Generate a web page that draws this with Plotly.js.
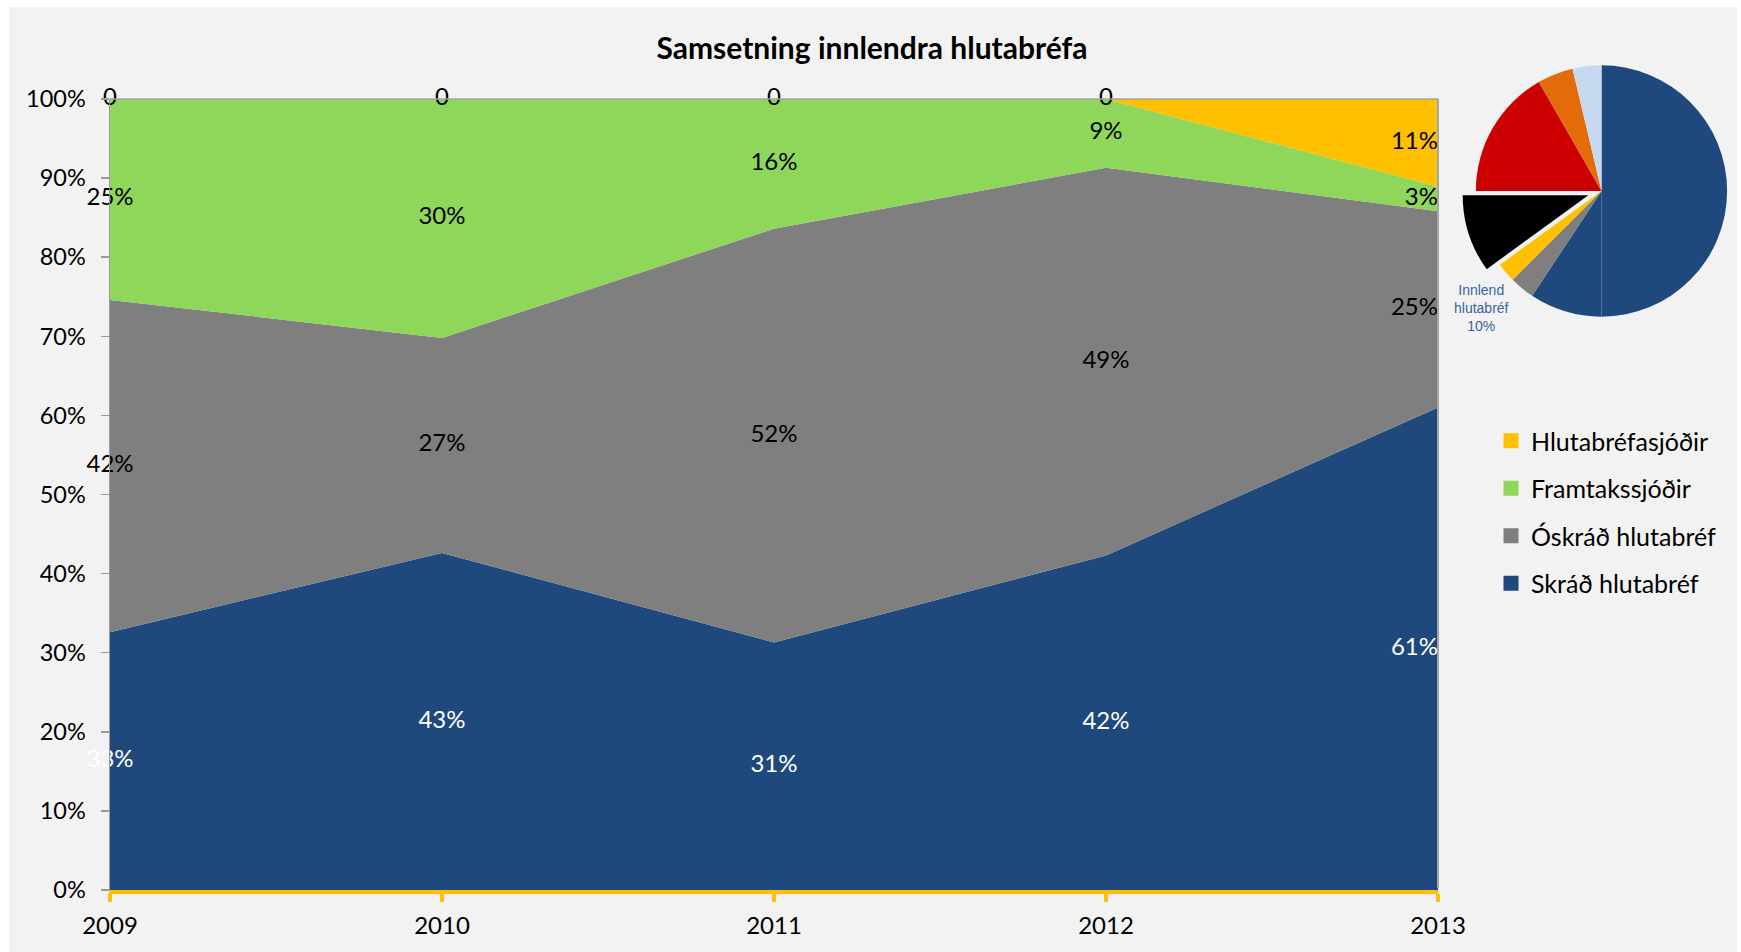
<!DOCTYPE html>
<html>
<head>
<meta charset="utf-8">
<script src="https://cdn.plot.ly/plotly-3.0.1.min.js"></script>
<style>html,body{margin:0;padding:0;background:#fff;}#chart{width:1741px;height:952px;}</style>
</head>
<body>
<div id="chart"></div>
<script>
// ---- Data ----
const years = [2009, 2010, 2011, 2012, 2013];
const skrad = [32.6, 42.6, 31.3, 42.3, 61.0];          // Skráð hlutabréf
const oskrad = [42.0, 27.2, 52.3, 49.0, 24.8];         // Óskráð hlutabréf
const framtak = [25.4, 30.2, 16.4, 8.7, 3.1];          // Framtakssjóðir
const hlutabrefasjodir = [0, 0, 0, 0, 11.1];           // Hlutabréfasjóðir
const seriesNames = ['Skráð hlutabréf', 'Óskráð hlutabréf', 'Framtakssjóðir', 'Hlutabréfasjóðir'];
const yTicks = [0,10,20,30,40,50,60,70,80,90,100];

// inset pie (thumbnail)
const pieLabels = ['Flokkur A', 'Flokkur B', 'Flokkur C', 'Flokkur D', 'Innlend hlutabréf', 'Flokkur E', 'Flokkur F', 'Flokkur G'];
const pieValues = [50.0, 9.3, 3.2, 2.5, 10.0, 16.7, 4.6, 3.7];

// ---- Styles ----
const colors = ['#1f497d', '#7f7f7f', '#8fd75a', '#ffc000'];
const labelColors = ['#ffffff', '#000000', '#000000', '#000000'];
const pieColors = ['#1f497d', '#1f497d', '#7f7f7f', '#ffc000', '#000000', '#cc0000', '#e36c0a', '#c6d9f1'];
const FONT = 'Lato, "Open Sans", sans-serif';

const W = 1741, H = 952;
const px = (x) => x / W;
const py = (y) => 1 - y / H;

const allSeries = [skrad, oskrad, framtak, hlutabrefasjodir];
const traces = [];

// stacked areas
allSeries.forEach((s, i) => {
  traces.push({
    type: 'scatter', mode: 'lines', x: years, y: s, stackgroup: 'one',
    name: seriesNames[i], line: {width: 0, color: colors[i]}, fillcolor: colors[i],
    showlegend: false, hoverinfo: 'skip'
  });
});

// data labels at the middle of each band
const cum = years.map(() => 0);
allSeries.forEach((s, i) => {
  const ys = s.map((v, j) => cum[j] + v / 2);
  s.forEach((v, j) => { cum[j] += v; });
  traces.push({
    type: 'scatter', mode: 'text', x: years, y: ys,
    text: s.map(v => v === 0 ? '0' : Math.round(v) + '%'),
    textposition: years.map((y, j) => j === years.length - 1 ? 'middle left' : 'middle center'),
    textfont: {family: FONT, size: 24, color: labelColors[i]},
    showlegend: false, hoverinfo: 'skip', cliponaxis: false
  });
});

// legend entries (square swatches), top to bottom
[3, 2, 1, 0].forEach((i) => {
  traces.push({
    type: 'scatter', mode: 'markers', x: [null], y: [null], name: seriesNames[i],
    legendgroup: 'g' + i,
    marker: {symbol: 'square', size: 15, color: colors[i]}, showlegend: true
  });
});

// inset pie
traces.push({
  type: 'pie', labels: pieLabels, values: pieValues, sort: false, direction: 'clockwise', rotation: 0,
  marker: {colors: pieColors, line: {width: 0}},
  pull: pieLabels.map(l => l === 'Innlend hlutabréf' ? 0.11 : 0),
  textinfo: 'none', hoverinfo: 'label+percent', showlegend: false,
  domain: {x: [px(1462), 1], y: [py(331), py(51)]}
});

const xL = 110, xR = 1438, yT = 99, yB = 890;

const layout = {
  width: W, height: H,
  margin: {l: 0, r: 0, t: 0, b: 0},
  paper_bgcolor: '#ffffff', plot_bgcolor: 'rgba(0,0,0,0)',
  title: {text: '<b>Samsetning innlendra hlutabréfa</b>', font: {family: FONT, size: 30, color: '#000'},
          x: px(872), xanchor: 'center', y: py(48), yanchor: 'middle'},
  xaxis: {
    domain: [px(xL), px(xR)], range: [2009, 2013], tickvals: years, ticktext: years.map(String),
    showgrid: false, zeroline: false, showline: true, linecolor: '#ffc000', linewidth: 4,
    ticks: 'outside', ticklen: 8, tickwidth: 4, tickcolor: '#ffc000',
    tickfont: {family: FONT, size: 24, color: '#000'}, ticklabelstandoff: 3, fixedrange: true
  },
  yaxis: {
    domain: [py(yB), py(yT)], range: [0, 100], tickvals: yTicks, ticktext: yTicks.map(v => v + '%'),
    showgrid: false, zeroline: false, showline: true, linecolor: '#999999', linewidth: 1.5,
    ticks: 'outside', ticklen: 8, tickwidth: 1.5, tickcolor: '#999999',
    tickfont: {family: FONT, size: 23.5, color: '#000'}, ticklabelstandoff: 10, fixedrange: true
  },
  showlegend: true,
  legend: {x: px(1491), xanchor: 'left', y: py(418), yanchor: 'top', traceorder: 'grouped',
           tracegroupgap: 12, bgcolor: 'rgba(0,0,0,0)',
           font: {family: FONT, size: 25, color: '#000'}},
  shapes: [
    {type: 'rect', xref: 'paper', yref: 'paper', x0: px(9), x1: px(1737), y0: 0, y1: py(7),
     fillcolor: '#f2f2f2', line: {width: 0}, layer: 'below'},
    {type: 'line', xref: 'paper', yref: 'paper', x0: px(xL), x1: px(xR), y0: py(yT), y1: py(yT),
     line: {color: '#a6a6a6', width: 1.5}, layer: 'above'},
    {type: 'line', xref: 'paper', yref: 'paper', x0: px(xR), x1: px(xR), y0: py(yT), y1: py(yB - 2),
     line: {color: '#a6a6a6', width: 2}, layer: 'above'}
  ],
  annotations: [
    {xref: 'paper', yref: 'paper', x: px(1481), y: py(308), xanchor: 'center', yanchor: 'middle',
     text: 'Innlend<br>hlutabréf<br>10%', showarrow: false,
     font: {family: '"Liberation Sans", Arial, sans-serif', size: 14, color: '#3b64a0'}}
  ]
};

Plotly.newPlot('chart', traces, layout, {displayModeBar: false, staticPlot: true});
</script>
</body>
</html>
